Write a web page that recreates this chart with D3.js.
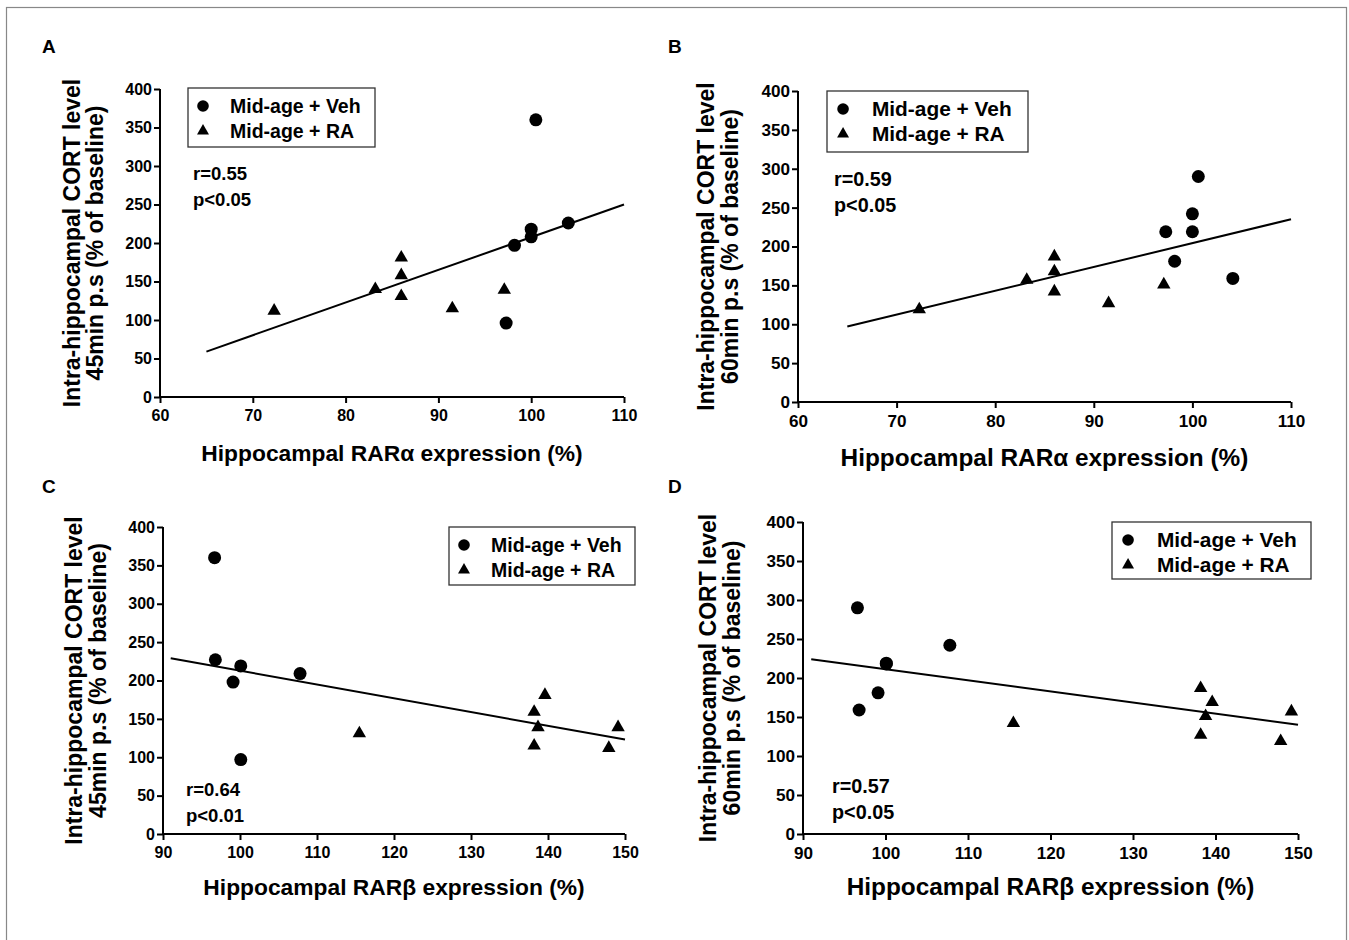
<!DOCTYPE html>
<html>
<head>
<meta charset="utf-8">
<script src="https://cdn.jsdelivr.net/npm/d3@7"></script>
<style>
  body { margin: 0; background: #fff; }
  svg text { font-family: "Liberation Sans", Arial, sans-serif; font-weight: bold; fill: #000; }
</style>
</head>
<body>
<div id="chart"></div>
<script>
// data: [RAR expression %, CORT % of baseline]
var vehA = [[100.5, 360], [104, 226], [100, 218], [100, 208], [98.2, 197], [97.3, 96]];
var raA  = [[72.3, 112], [83.2, 140], [86, 181], [86, 158], [86, 131], [91.5, 115], [97.1, 139]];
var fitA = [[65, 59], [110, 250]];

var vehB = [[100.6, 290], [100, 242], [97.3, 219], [100, 219], [98.2, 181], [104.1, 159]];
var raB  = [[72.3, 119], [83.2, 157], [86, 187], [86, 168], [86, 142], [91.5, 127], [97.1, 151]];
var fitB = [[65, 97], [110, 235]];

var vehC = [[96.7, 360], [96.8, 227], [100.1, 219], [99.1, 198], [107.8, 209], [100.1, 97]];
var raC  = [[115.5, 131], [138.2, 159], [139.6, 181], [138.7, 139], [138.2, 115], [147.9, 112], [149.1, 139]];
var fitC = [[91, 229], [150, 123]];

var vehD = [[96.6, 290], [96.8, 159], [99.1, 181], [100.1, 219], [100.1, 218], [107.8, 242]];
var raD  = [[115.5, 142], [138.2, 187], [139.6, 169], [138.8, 151], [138.2, 127], [147.9, 119], [149.2, 157]];
var fitD = [[91, 224], [150, 140]];

var yTicks = [0, 50, 100, 150, 200, 250, 300, 350, 400];
var xTicksAlpha = [60, 70, 80, 90, 100, 110];
var xTicksBeta = [90, 100, 110, 120, 130, 140, 150];
var legendLabels = ["Mid-age + Veh", "Mid-age + RA"];
var stats = { A: ["r=0.55", "p<0.05"], B: ["r=0.59", "p<0.05"], C: ["r=0.64", "p<0.01"], D: ["r=0.57", "p<0.05"] };
var yTitle1 = "Intra-hippocampal CORT level";
var yTitle2 = { A: "45min p.s (% of baseline)", B: "60min p.s (% of baseline)", C: "45min p.s (% of baseline)", D: "60min p.s (% of baseline)" };
var xTitleAlpha = "Hippocampal RARα expression (%)";
var xTitleBeta = "Hippocampal RARβ expression (%)";

var W = 1349, H = 940;

// k: horizontal stretch of the right-hand panels
var panels = [
  { id: "A", veh: vehA, ra: raA, fit: fitA, xd: [60, 110], xt: xTicksAlpha, xtitle: xTitleAlpha, k: 1,
    x0: 160, x1: 624, y0: 397, y1: 89, letter: [42, 53], yl: [80, 103], xl: 461,
    leg: [188, 88, 187, 59], st: [193, 180] },
  { id: "B", veh: vehB, ra: raB, fit: fitB, xd: [60, 110], xt: xTicksAlpha, xtitle: xTitleAlpha, k: 1.07,
    x0: 798, x1: 1291, y0: 402, y1: 91, letter: [668, 53], yl: [714, 738], xl: 466,
    leg: [827, 91, 201, 61], st: [834, 186] },
  { id: "C", veh: vehC, ra: raC, fit: fitC, xd: [90, 150], xt: xTicksBeta, xtitle: xTitleBeta, k: 1,
    x0: 163, x1: 625, y0: 834, y1: 527, letter: [42, 493], yl: [82, 106], xl: 895,
    leg: [449, 527, 186, 58], st: [186, 796] },
  { id: "D", veh: vehD, ra: raD, fit: fitD, xd: [90, 150], xt: xTicksBeta, xtitle: xTitleBeta, k: 1.07,
    x0: 803, x1: 1298, y0: 834, y1: 522, letter: [668, 493], yl: [716, 740], xl: 895,
    leg: [1112, 522, 199, 57], st: [832, 793] }
];

var svg = d3.select("#chart").append("svg")
    .attr("width", W)
    .attr("height", H);

svg.append("rect")
    .attr("x", 6.5).attr("y", 7.5)
    .attr("width", 1340).attr("height", 940)
    .attr("fill", "none")
    .attr("stroke", "#888")
    .attr("stroke-width", 1.2);

var triangle = d3.symbol().type(d3.symbolTriangle).size(78);
var triangleSmall = d3.symbol().type(d3.symbolTriangle).size(62);

panels.forEach(function (p) {
    var x = d3.scaleLinear().domain(p.xd).range([p.x0, p.x1]);
    var y = d3.scaleLinear().domain([0, 400]).range([p.y0, p.y1]);
    var g = svg.append("g").attr("class", "panel-" + p.id);
    var fs = function (s) { return (s * p.k) + "px"; };

    g.append("text")
        .attr("x", p.letter[0]).attr("y", p.letter[1])
        .style("font-size", "19px")
        .text(p.id);

    // axes
    var ya = g.append("g")
        .attr("transform", "translate(" + p.x0 + ",0)")
        .call(d3.axisLeft(y).tickValues(yTicks).tickSize(6).tickPadding(2).tickSizeOuter(0));
    var xa = g.append("g")
        .attr("transform", "translate(0," + p.y0 + ")")
        .call(d3.axisBottom(x).tickValues(p.xt).tickSize(6).tickPadding(7).tickSizeOuter(0));
    [ya, xa].forEach(function (a) {
        a.selectAll("path, line").attr("stroke", "#000").attr("stroke-width", 2);
        a.selectAll("text").style("font-size", fs(16)).attr("fill", "#000");
    });
    ya.select(".domain").attr("d", "M0," + (p.y0 + 1) + "V" + p.y1);
    xa.select(".domain").attr("d", "M" + (p.x0 - 1) + ",0H" + p.x1);

    // axis titles
    g.append("text")
        .attr("transform", "translate(" + p.yl[0] + "," + ((p.y0 + p.y1) / 2) + ") rotate(-90)")
        .attr("text-anchor", "middle")
        .style("font-size", "23px")
        .text(yTitle1);
    g.append("text")
        .attr("transform", "translate(" + p.yl[1] + "," + ((p.y0 + p.y1) / 2) + ") rotate(-90)")
        .attr("text-anchor", "middle")
        .style("font-size", "23px")
        .text(yTitle2[p.id]);
    g.append("text")
        .attr("x", (p.x0 + p.x1) / 2).attr("y", p.xl)
        .attr("text-anchor", "middle")
        .style("font-size", fs(22.8))
        .text(p.xtitle);

    // regression line
    g.append("line")
        .attr("x1", x(p.fit[0][0])).attr("y1", y(p.fit[0][1]))
        .attr("x2", x(p.fit[1][0])).attr("y2", y(p.fit[1][1]))
        .attr("stroke", "#000").attr("stroke-width", 2);

    // points
    g.selectAll(".veh").data(p.veh).enter().append("circle")
        .attr("class", "veh")
        .attr("cx", function (d) { return x(d[0]); })
        .attr("cy", function (d) { return y(d[1]); })
        .attr("r", 6.5)
        .attr("fill", "#000");
    g.selectAll(".ra").data(p.ra).enter().append("path")
        .attr("class", "ra")
        .attr("d", triangle)
        .attr("transform", function (d) { return "translate(" + x(d[0]) + "," + y(d[1]) + ")"; })
        .attr("fill", "#000");

    // legend
    var lg = g.append("g").attr("transform", "translate(" + p.leg[0] + "," + p.leg[1] + ")");
    lg.append("rect")
        .attr("width", p.leg[2]).attr("height", p.leg[3])
        .attr("fill", "#fff")
        .attr("stroke", "#333").attr("stroke-width", 1.3);
    lg.append("circle").attr("cx", 15 * p.k).attr("cy", 18).attr("r", 5.8).attr("fill", "#000");
    lg.append("path").attr("d", triangleSmall).attr("transform", "translate(" + (15 * p.k) + ",43)").attr("fill", "#000");
    lg.selectAll(".leglab").data(legendLabels).enter().append("text")
        .attr("class", "leglab")
        .attr("x", 42 * p.k)
        .attr("y", function (d, i) { return 25 + i * 25; })
        .style("font-size", fs(19.5))
        .text(function (d) { return d; });

    // stats
    g.selectAll(".stat").data(stats[p.id]).enter().append("text")
        .attr("class", "stat")
        .attr("x", p.st[0])
        .attr("y", function (d, i) { return p.st[1] + i * 26; })
        .style("font-size", fs(18.5))
        .text(function (d) { return d; });
});
</script>
</body>
</html>
